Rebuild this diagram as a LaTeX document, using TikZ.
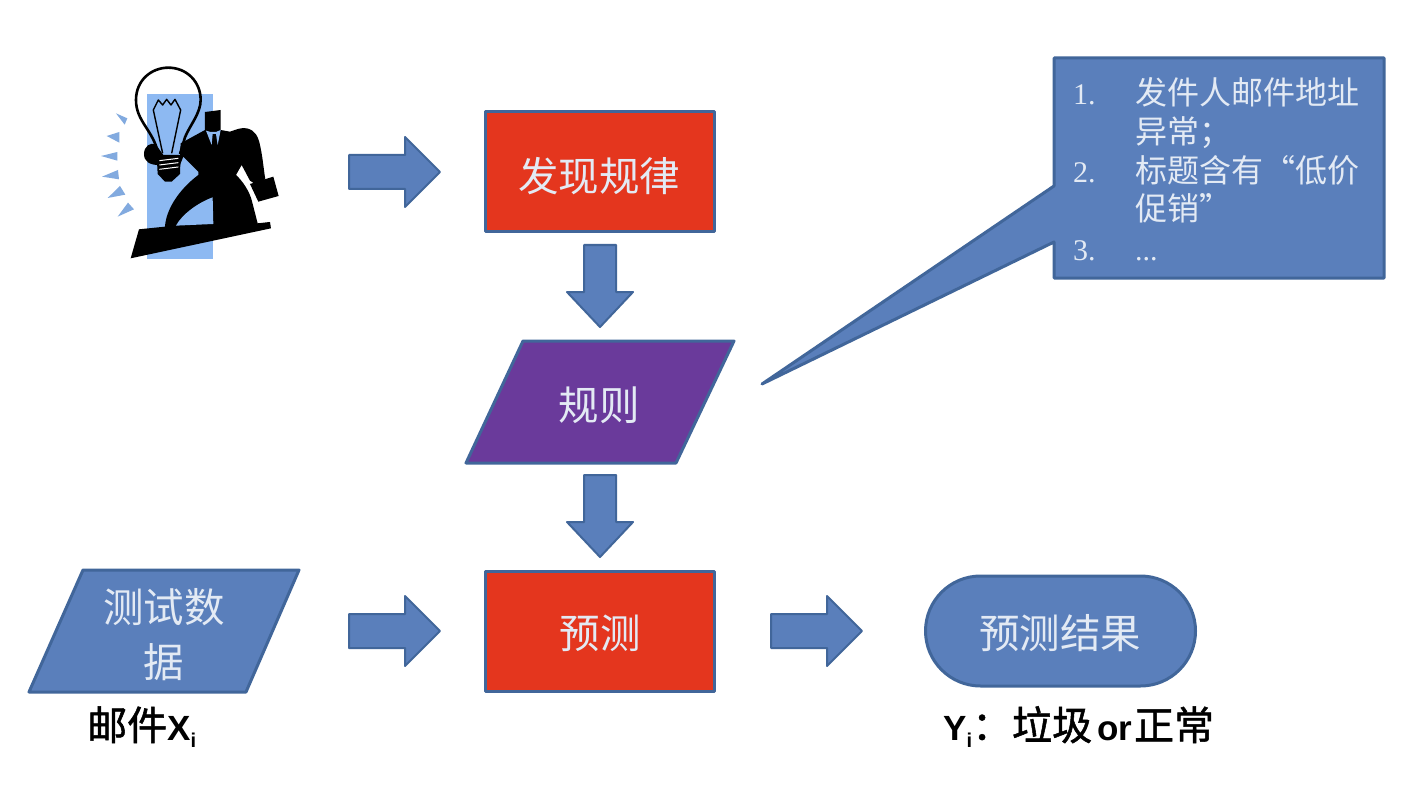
\documentclass[tikz,border=0pt]{standalone}
\usepackage{fontspec}
\setmainfont{Liberation Sans}
\newfontfamily\cjk{Noto Sans CJK SC}
\newfontfamily\cjkb[FakeBold=1.3]{Noto Sans CJK SC}
\newfontfamily\numfont{Liberation Serif}
\definecolor{flowblue}{HTML}{5A7FBB}
\definecolor{edgeblue}{HTML}{41669A}
\definecolor{flowred}{HTML}{E4361E}
\definecolor{flowpurple}{HTML}{6A3A9B}
\definecolor{softwhite}{HTML}{E3EAF4}
\definecolor{clipblue}{HTML}{8DB9F2}
\tikzset{
  x=1pt,y=-1pt,
  shapeline/.style={draw=edgeblue,line width=3pt,line join=round},
  bluefill/.style={shapeline,fill=flowblue},
  redfill/.style={shapeline,fill=flowred},
  purplefill/.style={shapeline,fill=flowpurple},
  blockarrow/.style={fill=flowblue,draw=edgeblue,line width=2pt,line join=round},
  big/.style={text=softwhite,font=\cjk\fontsize{40.5}{46}\selectfont,align=center,inner sep=0pt},
  small/.style={text=softwhite,font=\cjk\fontsize{32}{36}\selectfont,anchor=base west,inner sep=0pt},
  smallnum/.style={text=softwhite,font=\numfont\fontsize{30}{36}\selectfont,anchor=base west,inner sep=0pt},
  caption/.style={text=black,anchor=base west,inner sep=0pt},
  ray/.style={fill=clipblue!92!black,draw=none},
}
\newcommand{\rightblock}[2]{% left x, centre y
  \draw[blockarrow] (#1,#2-17) -- (#1+56,#2-17) -- (#1+56,#2-35) -- (#1+91,#2) -- (#1+56,#2+35) -- (#1+56,#2+17) -- (#1,#2+17) -- cycle;}
\newcommand{\downblock}[2]{% centre x, top y
  \draw[blockarrow] (#1-16,#2) -- (#1+16,#2) -- (#1+16,#2+47) -- (#1+33,#2+47) -- (#1,#2+82) -- (#1-33,#2+47) -- (#1-16,#2+47) -- cycle;}
\newcommand{\capcjk}[1]{{\cjkb\fontsize{40}{44}\selectfont #1}}
\newcommand{\caplat}[1]{{\bfseries\fontsize{35}{38}\selectfont #1}}
\newcommand{\capsub}{\raisebox{-7pt}{\bfseries\fontsize{20}{22}\selectfont i}}
\begin{document}
\begin{tikzpicture}
\useasboundingbox (0,0) rectangle (1420,802);
\fill[white] (0,0) rectangle (1420,802);

% clip-art figure (coordinates in 3x zoom units)
\begin{scope}[shift={(90,50)},x=0.3333pt,y=-0.3333pt]
  \fill[clipblue] (172,132) rectangle (370,628);
  % rays
  \fill[ray] (78,190) -- (112,205) -- (104,224) -- cycle;
  \fill[ray] (50,258) -- (88,246) -- (88,278) -- cycle;
  \fill[ray] (33,318) -- (82,306) -- (82,332) -- cycle;
  \fill[ray] (36,380) -- (84,360) -- (87,388) -- cycle;
  \fill[ray] (53,444) -- (90,408) -- (106,434) -- cycle;
  \fill[ray] (83,500) -- (114,458) -- (132,478) -- cycle;
  % man
  \fill[black] (162,312) .. controls (162,290) and (180,275) .. (198,284)
    -- (222,318) -- (270,318) -- (272,280) -- (345,240) -- (345,186) -- (392,180) -- (392,240)
    -- (420,245) .. controls (440,238) and (455,232) .. (470,235)
    .. controls (495,240) and (505,260) .. (510,285)
    .. controls (518,320) and (520,350) .. (526,388)
    -- (495,402) -- (480,392) -- (455,345) -- (438,375)
    .. controls (460,395) and (478,425) .. (485,450)
    -- (503,520) -- (540,516) -- (543,535) -- (122,625) -- (147,538) -- (225,530)
    .. controls (228,480) and (265,420) .. (325,375)
    -- (325,365) -- (280,320) -- (270,345) -- (205,345)
    .. controls (180,345) and (162,335) .. (162,312) -- cycle;
  % gap between the legs
  \fill[clipblue] (258,527) .. controls (275,495) and (320,460) .. (368,442) -- (370,522) -- cycle;
  % briefcase
  \fill[black] (480,402) -- (550,380) -- (566,438) -- (505,455) -- cycle;
  % shirt and tie
  \fill[clipblue] (348,242) -- (365,285) -- (368,252) -- (378,252) -- (383,285) -- (392,240) -- (378,246) -- (362,246) -- cycle;
  % bulb
  \draw[black,line width=2.6pt,line join=round]
    (205,312) .. controls (190,240) and (138,215) .. (138,150)
    .. controls (138,90) and (185,53) .. (235,53)
    .. controls (290,53) and (332,95) .. (332,150)
    .. controls (332,190) and (300,225) .. (285,262) -- (270,312);
  \draw[black,line width=1.4pt,line join=round]
    (218,310) -- (190,180) -- (205,150) -- (218,165) -- (230,148) -- (243,165) -- (255,148) -- (272,180) -- (245,310);
  % base
  \fill[black] (200,315) -- (272,315) -- (270,372) -- (245,395) -- (225,395) -- (203,372) -- cycle;
  \draw[white,line width=1pt] (208,332) -- (265,325) (208,345) -- (265,338) (208,358) -- (265,351);
\end{scope}

% block arrows
\rightblock{349}{172}
\downblock{600}{245}
\downblock{600}{475}
\rightblock{349}{631}
\rightblock{771}{631}

% process shapes
\node[redfill,minimum width=229pt,minimum height=120pt,inner sep=0pt] (find) at (599.5,172) {};
\node[big] (findtext) at (599,176) {发现规律};
\node[redfill,minimum width=229pt,minimum height=120pt,inner sep=0pt] (pred) at (599.5,631) {};
\node[big] (predtext) at (600,633) {预测};
\draw[purplefill] (466,463) -- (523,341) -- (734,341) -- (676,463) -- cycle;
\node[big] (rule) at (599,405) {规则};
\draw[bluefill] (29,692) -- (83,570) -- (299,570) -- (246,692) -- cycle;
\node[big] (testa) at (164,607) {测试数};
\node[big] (testb) at (164,662) {据};
\node[bluefill,rounded corners=55pt,minimum width=270pt,minimum height=110pt,inner sep=0pt] (result) at (1060.5,631) {};
\node[big] (resulttext) at (1060,633) {预测结果};

% callout
\draw[bluefill] (1054,58) -- (1384,58) -- (1384,278) -- (1054,278) -- (1054,242) -- (762,384) -- (1054,186) -- cycle;
\node[smallnum] (n1) at (1073,105) {1.};
\node[small] (l1) at (1135,105) {发件人邮件地址};
\node[small] (l2) at (1135,144) {异常；};
\node[smallnum] (n2) at (1073,183) {2.};
\node[small] (l3) at (1135,183) {标题含有“低价};
\node[small] (l4) at (1135,221) {促销”};
\node[smallnum] (n3) at (1073,261) {3.};
\node[smallnum] (l5) at (1135,261) {...};

% captions
\node[caption] (mail) at (87,740) {\capcjk{邮件}\caplat{X}\capsub};
\node[caption] (res) at (943,740) {\caplat{Y}\capsub\capcjk{：垃圾}\kern5pt\caplat{or}\kern2pt\capcjk{正常}};
\end{tikzpicture}
\end{document}
